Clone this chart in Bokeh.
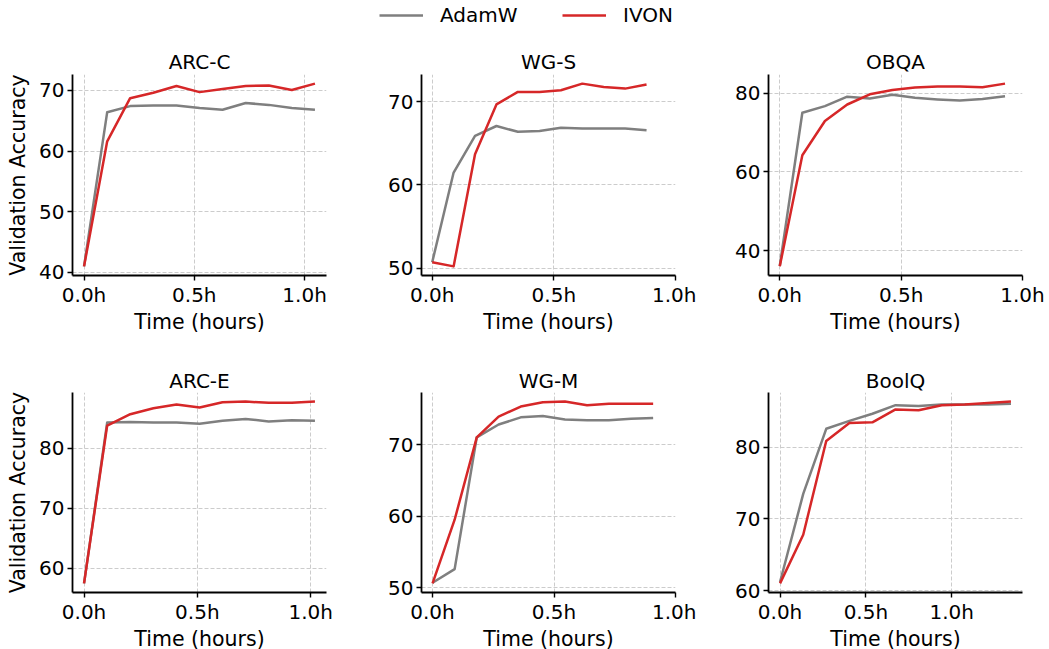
from bokeh.plotting import figure
from bokeh.layouts import column, row
from bokeh.models import Range1d, FixedTicker, PrintfTickFormatter, Legend, LegendItem
from bokeh.embed import file_html
from bokeh.resources import INLINE

FONT = "DejaVu Sans"
GRAY = "#7f7f7f"
RED = "#d62728"
FS = "20px"
FS_LAB = "20.5px"
LW = 2.5

series_names = ["AdamW", "IVON"]
x_ticks = [0.0, 0.5, 1.0]

# ---- data ----
arcc_time = [0.0, 0.105, 0.209, 0.314, 0.419, 0.524, 0.628, 0.733, 0.838, 0.942, 1.047]
arcc_adamw = [41.0, 66.4, 67.4, 67.5, 67.5, 67.1, 66.8, 67.9, 67.6, 67.1, 66.8]
arcc_ivon = [41.0, 61.6, 68.7, 69.6, 70.7, 69.7, 70.2, 70.7, 70.8, 70.05, 71.1]
arcc_yticks = [40, 50, 60, 70]

wgs_time = [0.0, 0.088, 0.176, 0.264, 0.352, 0.441, 0.529, 0.617, 0.705, 0.793, 0.881]
wgs_adamw = [50.7, 61.5, 65.9, 67.1, 66.4, 66.5, 66.9, 66.8, 66.8, 66.8, 66.6]
wgs_ivon = [50.7, 50.2, 63.7, 69.7, 71.2, 71.2, 71.4, 72.2, 71.8, 71.6, 72.1]
wgs_yticks = [50, 60, 70]

obqa_time = [0.0, 0.093, 0.186, 0.278, 0.371, 0.464, 0.557, 0.650, 0.742, 0.835, 0.928]
obqa_adamw = [36.1, 75.0, 76.7, 79.1, 78.6, 79.6, 78.8, 78.4, 78.1, 78.5, 79.2]
obqa_ivon = [36.0, 64.2, 72.9, 77.1, 79.7, 80.8, 81.4, 81.7, 81.7, 81.5, 82.4]
obqa_yticks = [40, 60, 80]

arce_time = [0.0, 0.102, 0.204, 0.306, 0.408, 0.510, 0.611, 0.713, 0.815, 0.917, 1.019]
arce_adamw = [57.5, 84.3, 84.4, 84.3, 84.3, 84.1, 84.6, 84.9, 84.5, 84.7, 84.6]
arce_ivon = [57.5, 83.8, 85.7, 86.7, 87.3, 86.8, 87.7, 87.8, 87.6, 87.6, 87.8]
arce_yticks = [60, 70, 80]

wgm_time = [0.0, 0.091, 0.182, 0.272, 0.363, 0.454, 0.545, 0.636, 0.726, 0.817, 0.908]
wgm_adamw = [50.7, 52.6, 71.0, 72.8, 73.8, 74.0, 73.5, 73.4, 73.4, 73.6, 73.7]
wgm_ivon = [50.6, 59.5, 71.0, 73.9, 75.3, 75.9, 76.0, 75.5, 75.7, 75.7, 75.7]
wgm_yticks = [50, 60, 70]

boolq_time = [0.0, 0.135, 0.269, 0.404, 0.538, 0.673, 0.807, 0.942, 1.076, 1.211, 1.345]
boolq_adamw = [61.2, 73.5, 82.6, 83.7, 84.7, 85.9, 85.8, 86.0, 86.0, 86.0, 86.1]
boolq_ivon = [61.0, 67.8, 80.9, 83.4, 83.5, 85.3, 85.2, 85.9, 86.0, 86.2, 86.4]
boolq_yticks = [60, 70, 80]

panels = [
    ("ARC-C", arcc_time, arcc_adamw, arcc_ivon, arcc_yticks),
    ("WG-S", wgs_time, wgs_adamw, wgs_ivon, wgs_yticks),
    ("OBQA", obqa_time, obqa_adamw, obqa_ivon, obqa_yticks),
    ("ARC-E", arce_time, arce_adamw, arce_ivon, arce_yticks),
    ("WG-M", wgm_time, wgm_adamw, wgm_ivon, wgm_yticks),
    ("BoolQ", boolq_time, boolq_adamw, boolq_ivon, boolq_yticks),
]

LEFT = [72, 73, 72]
RIGHT = [22, 21, 26]
# (border top, frame height, border bottom, title standoff)
ROWCFG = [(34, 201, 70, 1), (47, 200, 56, 0)]


def make_panel(idx, title, t, adamw, ivon, yticks):
    r, c = divmod(idx, 3)
    top, fh, bottom, tstand = ROWCFG[r]
    xmax = max(t)
    xpad = 0.05 * xmax
    lo = min(min(adamw), min(ivon))
    hi = max(max(adamw), max(ivon))
    ypad = 0.05 * (hi - lo)
    p = figure(frame_width=254, frame_height=fh,
               min_border_left=LEFT[c], min_border_right=RIGHT[c],
               min_border_top=top, min_border_bottom=bottom,
               x_range=Range1d(-xpad, max(xmax + xpad, max(x_ticks))),
               y_range=Range1d(lo - ypad, hi + ypad),
               output_backend="svg", toolbar_location=None, title=title)
    p.title.text_font = FONT
    p.title.text_font_size = FS
    p.title.text_font_style = "normal"
    p.title.text_color = "black"
    p.title.align = "center"
    p.title.standoff = tstand
    p.outline_line_color = None
    p.background_fill_color = "white"
    for ax in (p.xaxis[0], p.yaxis[0]):
        ax.axis_line_color = "black"
        ax.axis_line_width = 1.8
        ax.major_tick_line_color = "black"
        ax.major_tick_line_width = 1.4
        ax.major_tick_out = 5
        ax.major_tick_in = 0
        ax.minor_tick_line_color = None
        ax.major_label_text_font = FONT
        ax.major_label_text_font_size = FS
        ax.major_label_text_color = "black"
        ax.axis_label_text_font = FONT
        ax.axis_label_text_font_size = FS_LAB
        ax.axis_label_text_font_style = "normal"
        ax.axis_label_text_color = "black"
    p.xaxis.ticker = FixedTicker(ticks=x_ticks)
    p.xaxis.formatter = PrintfTickFormatter(format="%.1fh")
    p.xaxis.major_label_standoff = 2
    p.xaxis.axis_label = "Time (hours)"
    p.xaxis.axis_label_standoff = 0
    p.yaxis.ticker = FixedTicker(ticks=yticks)
    p.yaxis.major_label_standoff = 3
    if c == 0:
        p.yaxis.axis_label = "Validation Accuracy"
        p.yaxis.axis_label_standoff = 6
    for g in (p.xgrid[0], p.ygrid[0]):
        g.grid_line_color = "#cccccc"
        g.grid_line_dash = "4 2"
        g.grid_line_width = 1
    p.line(t, adamw, color=GRAY, line_width=LW, line_join="round")
    p.line(t, ivon, color=RED, line_width=LW, line_join="round")
    return p


figs = [make_panel(i, *pan) for i, pan in enumerate(panels)]

# legend strip (proxy lines sit outside the visible range)
leg = figure(width=1048, height=40, x_axis_type=None, y_axis_type=None,
             x_range=Range1d(-10, -9), y_range=Range1d(-10, -9),
             toolbar_location=None, output_backend="svg", min_border=0)
leg.outline_line_color = None
leg.xgrid.visible = False
leg.ygrid.visible = False
r1 = leg.line(arcc_time, arcc_adamw, color=GRAY, line_width=LW)
r2 = leg.line(arcc_time, arcc_ivon, color=RED, line_width=LW)
for name, rend, xloc in ((series_names[0], r1, 379), (series_names[1], r2, 562)):
    lg = Legend(items=[LegendItem(label=name, renderers=[rend])],
                orientation="horizontal", location=(xloc, 13),
                glyph_width=44, glyph_height=20, label_height=20,
                label_standoff=17, spacing=0, padding=0, margin=0,
                border_line_color=None, background_fill_alpha=0,
                label_text_font=FONT, label_text_font_size=FS,
                label_text_color="black")
    leg.add_layout(lg, "center")

layout = column(leg, row(*figs[:3]), row(*figs[3:]))
open("out.html", "w").write(file_html(layout, INLINE))
